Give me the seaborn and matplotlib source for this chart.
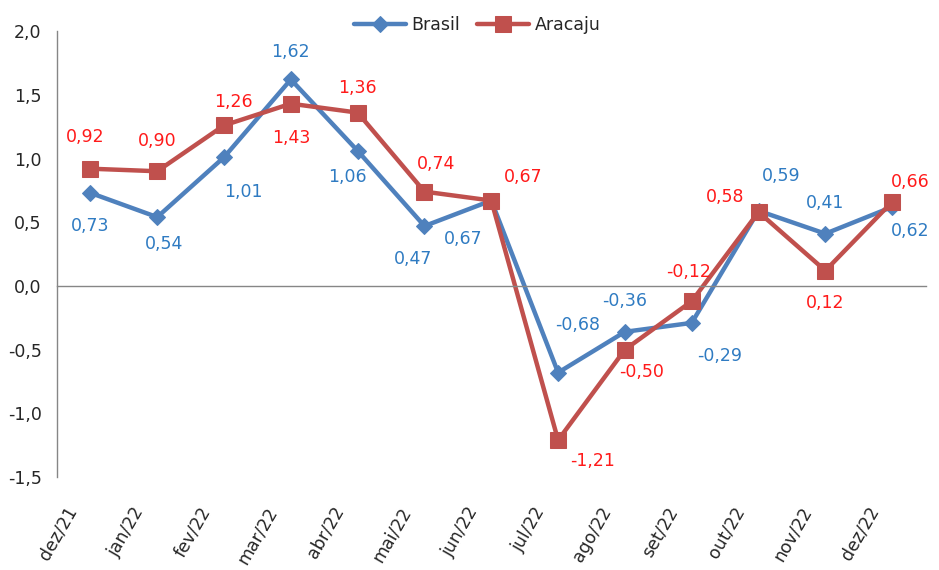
import numpy as np
import pandas as pd
import matplotlib
matplotlib.use("Agg")
import matplotlib.pyplot as plt
import matplotlib.transforms as mtransforms
import seaborn as sns

meses = ["dez/21", "jan/22", "fev/22", "mar/22", "abr/22", "mai/22", "jun/22",
         "jul/22", "ago/22", "set/22", "out/22", "nov/22", "dez/22"]
brasil = [0.73, 0.54, 1.01, 1.62, 1.06, 0.47, 0.67, -0.68, -0.36, -0.29, 0.59, 0.41, 0.62]
aracaju = [0.92, 0.90, 1.26, 1.43, 1.36, 0.74, 0.67, -1.21, -0.50, -0.12, 0.58, 0.12, 0.66]
yticks = [-1.5, -1.0, -0.5, 0.0, 0.5, 1.0, 1.5, 2.0]

# label offsets (points) relative to each marker
off_br = [(0, -24), (5, -19), (14, -25), (0, 20), (-7, -19), (-8, -24), (-20, -28),
          (14, 34), (0, 22), (20, -24), (16, 25), (0, 22), (13, -17)]
off_ar = [(-4, 23), (0, 22), (7, 17), (0, -25), (0, 18), (8, 20), (23, 17),
          (25, -15), (12, -16), (-2, 21), (-24, 11), (0, -23), (13, 14)]

sns.set_style("white")
plt.rcParams['font.family'] = ['DejaVu Sans']
FS = 12.5

df = pd.DataFrame({"pos": np.arange(len(meses)), "Brasil": brasil, "Aracaju": aracaju})

fig = plt.figure(figsize=(9.39, 5.70), dpi=100)
ax = fig.add_axes([0.0607, 0.163, 0.925, 0.7825])

c_br, c_ar = "#4F81BD", "#C0504D"
sns.lineplot(data=df, x="pos", y="Brasil", ax=ax, color=c_br, lw=3.2,
             marker="D", markersize=8, markeredgecolor=c_br, label="Brasil")
sns.lineplot(data=df, x="pos", y="Aracaju", ax=ax, color=c_ar, lw=3.2,
             marker="s", markersize=12, markeredgecolor=c_ar, label="Aracaju")

fmt = lambda v: f"{v:.2f}".replace(".", ",")
for i, v in enumerate(brasil):
    ax.annotate(fmt(v), (i, v), xytext=off_br[i], textcoords="offset points",
                ha="center", va="center", color="#2F7BC2", fontsize=FS)
for i, v in enumerate(aracaju):
    ax.annotate(fmt(v), (i, v), xytext=off_ar[i], textcoords="offset points",
                ha="center", va="center", color="#FF1A1A", fontsize=FS)

ax.set_xlim(-0.5, len(meses) - 0.5)
ax.set_ylim(-1.5, 2.0)
ax.set_yticks(yticks)
ax.set_yticklabels([f"{t:.1f}".replace(".", ",") for t in yticks], fontsize=FS)
ax.tick_params(axis="y", direction="out", length=5, color="#868686", pad=6)
ax.set_xlabel("")
ax.set_ylabel("")

# category axis crosses at zero, with ticks between categories
ax.spines["bottom"].set_position(("data", 0))
for s in ["top", "right"]:
    ax.spines[s].set_visible(False)
for s in ["left", "bottom"]:
    ax.spines[s].set_color("#868686")
    ax.spines[s].set_linewidth(1)
ax.set_xticks(np.arange(len(meses) + 1) - 0.5)
ax.set_xticklabels([])
ax.tick_params(axis="x", direction="out", length=6, color="#868686")

sec = ax.secondary_xaxis(0.0)
sec.set_xticks(np.arange(len(meses)))
sec.set_xticklabels(meses, rotation=60, ha="right", va="top", fontsize=FS)
sec.tick_params(length=0, pad=19)
sec.spines["bottom"].set_visible(False)
shift = mtransforms.ScaledTranslation(-7 / 72, 0, fig.dpi_scale_trans)
for lab in sec.get_xticklabels():
    lab.set_transform(lab.get_transform() + shift)

ax.get_legend().remove()
h, l = ax.get_legend_handles_labels()
fig.legend(h, l, loc="center", bbox_to_anchor=(477 / 939, 1 - 25 / 570), ncol=2,
           frameon=False, fontsize=FS, handlelength=3.0, columnspacing=1.0,
           handletextpad=0.3)

fig.savefig("out.png", dpi=100)
